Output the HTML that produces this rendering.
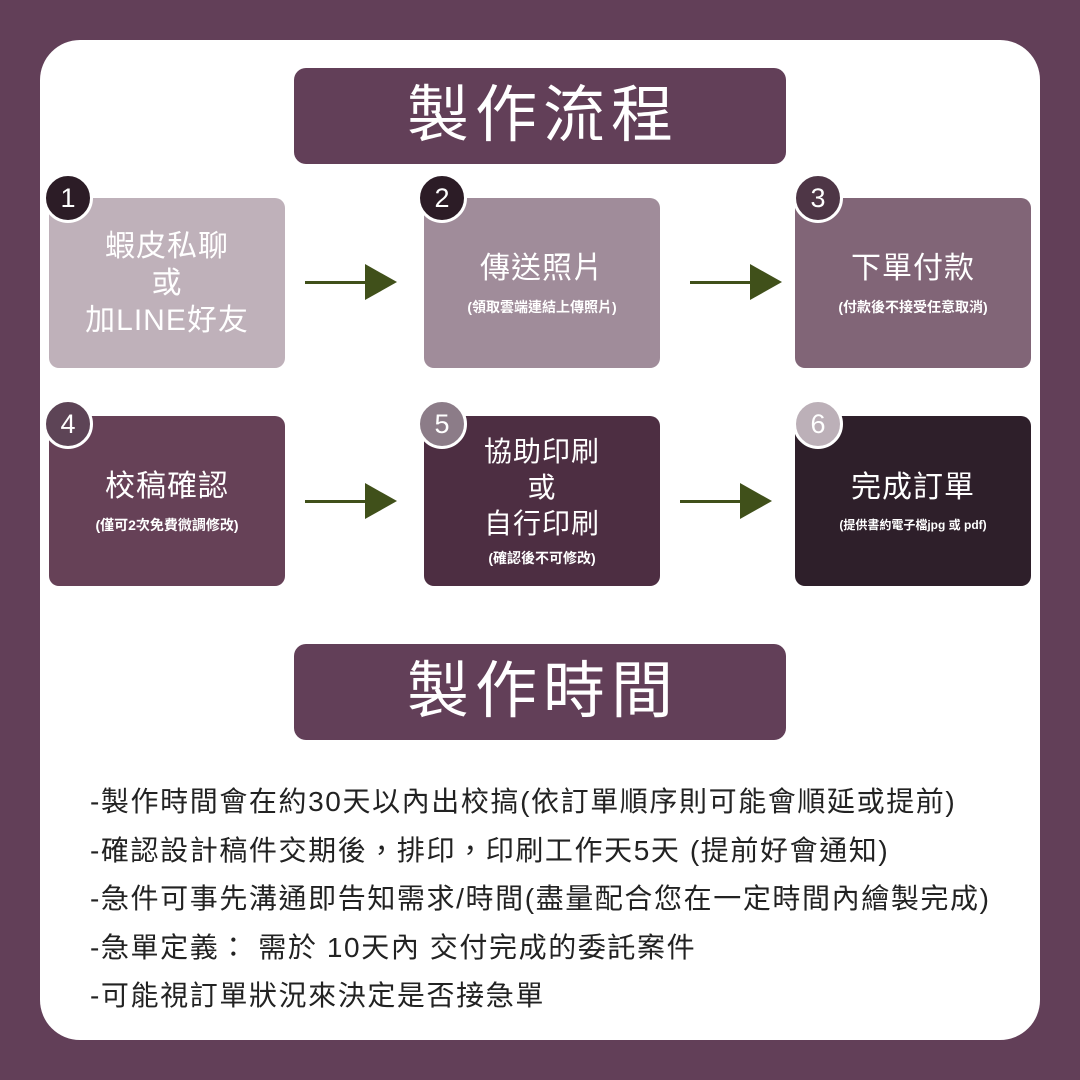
<!DOCTYPE html>
<html><head><meta charset="utf-8"><style>
*{margin:0;padding:0;box-sizing:border-box}
body{width:1080px;height:1080px;background:#623f58;position:relative;overflow:hidden;font-family:"Liberation Sans","Noto Sans CJK TC",sans-serif}
.panel{position:absolute;left:40px;top:40px;width:1000px;height:1000px;background:#fff;border-radius:40px}
.title{position:absolute;left:294px;width:492px;height:96px;background:#623f58;border-radius:12px;color:#fff;font-size:62px;text-align:center;line-height:96px;letter-spacing:6px;padding-left:6px}
.box{position:absolute;width:236px;height:170px;border-radius:10px;color:#fff;display:flex;flex-direction:column;justify-content:center;align-items:center;text-align:center}
.big{font-size:30px;line-height:37px;letter-spacing:1px}
.small{font-size:14px;margin-top:10px;font-weight:bold}
.c{position:absolute;width:50px;height:50px;border-radius:50%;border:3px solid #fff;color:#fff;font-size:27px;text-align:center;line-height:44px}
.arr{position:absolute;height:3px;background:#40501a}
.arr:after{content:"";position:absolute;right:-32px;top:-17px;border-left:32px solid #40501a;border-top:18px solid transparent;border-bottom:18px solid transparent}
.txt{position:absolute;left:90px;top:778px;font-size:28px;line-height:48.5px;color:#222;letter-spacing:1.6px;white-space:nowrap}
</style></head><body>
<div class="panel"></div>
<div class="title" style="top:68px">製作流程</div>
<div class="title" style="top:644px">製作時間</div>

<div class="box" style="left:49px;top:198px;background:#bfb1ba"><div class="big">蝦皮私聊<br>或<br>加LINE好友</div></div>
<div class="box" style="left:424px;top:198px;background:#a08c9a"><div class="big">傳送照片</div><div class="small">(領取雲端連結上傳照片)</div></div>
<div class="box" style="left:795px;top:198px;background:#816577"><div class="big">下單付款</div><div class="small">(付款後不接受任意取消)</div></div>
<div class="box" style="left:49px;top:416px;background:#664157"><div class="big">校稿確認</div><div class="small">(僅可2次免費微調修改)</div></div>
<div class="box" style="left:424px;top:416px;background:#4d2e42"><div class="big" style="font-size:28px;line-height:36px">協助印刷<br>或<br>自行印刷</div><div class="small" style="margin-top:6px">(確認後不可修改)</div></div>
<div class="box" style="left:795px;top:416px;background:#2e1f2a"><div class="big">完成訂單</div><div class="small" style="font-size:12px">(提供書約電子檔jpg 或 pdf)</div></div>

<div class="c" style="left:43px;top:173px;background:#2c1c26">1</div>
<div class="c" style="left:417px;top:173px;background:#2c1c26">2</div>
<div class="c" style="left:793px;top:173px;background:#4e3646">3</div>
<div class="c" style="left:43px;top:399px;background:#5d4456">4</div>
<div class="c" style="left:417px;top:399px;background:#8c7c88">5</div>
<div class="c" style="left:793px;top:399px;background:#bcb0b8">6</div>

<div class="arr" style="left:305px;top:281px;width:60px"></div>
<div class="arr" style="left:690px;top:281px;width:60px"></div>
<div class="arr" style="left:305px;top:500px;width:60px"></div>
<div class="arr" style="left:680px;top:500px;width:60px"></div>

<div class="txt">-製作時間會在約30天以內出校搞(依訂單順序則可能會順延或提前)<br>-確認設計稿件交期後，排印，印刷工作天5天 (提前好會通知)<br>-急件可事先溝通即告知需求/時間(盡量配合您在一定時間內繪製完成)<br>-急單定義： 需於 10天內 交付完成的委託案件<br>-可能視訂單狀況來決定是否接急單</div>
</body></html>
